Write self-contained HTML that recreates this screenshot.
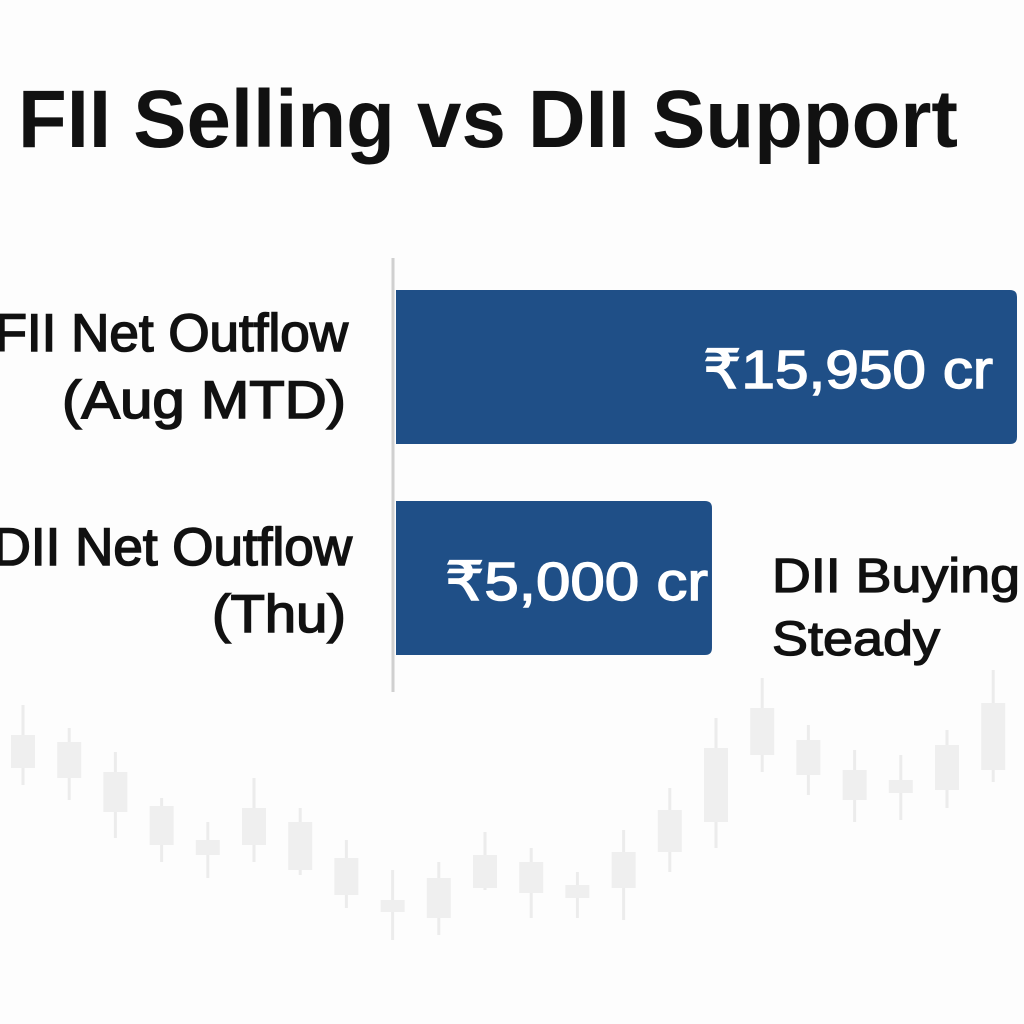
<!DOCTYPE html>
<html>
<head>
<meta charset="utf-8">
<style>
html,body{margin:0;padding:0;background:#fdfdfd;width:1024px;height:1024px;overflow:hidden;}
svg{display:block;font-family:"Liberation Sans","DejaVu Sans",sans-serif;}
</style>
</head>
<body>
<svg id="chart" width="1024" height="1024" viewBox="0 0 1024 1024">
  <rect x="0" y="0" width="1024" height="1024" fill="#fdfdfd"/>
  <g id="candles"></g>
  <text x="18" y="147" font-size="82" font-weight="bold" fill="#111" textLength="940" lengthAdjust="spacingAndGlyphs">FII Selling vs DII Support</text>
  <line x1="393" y1="258" x2="393" y2="692" stroke="#d0d0d0" stroke-width="3"/>
  <g id="bars"></g>
  <g font-size="53" fill="#111" stroke="#111" stroke-width="1.6" text-anchor="end">
    <text x="348" y="351">FII Net Outflow</text>
    <text x="346" y="418" textLength="284" lengthAdjust="spacingAndGlyphs">(Aug MTD)</text>
  </g>
  <g font-size="53" fill="#111" stroke="#111" stroke-width="1.6" text-anchor="end">
    <text x="352" y="565">DII Net Outflow</text>
    <text x="346" y="632" textLength="134" lengthAdjust="spacingAndGlyphs">(Thu)</text>
  </g>
  <g font-size="48" fill="#111" stroke="#111" stroke-width="1.3">
    <text x="772" y="592" textLength="248" lengthAdjust="spacingAndGlyphs">DII Buying</text>
    <text x="772" y="655" textLength="168" lengthAdjust="spacingAndGlyphs">Steady</text>
  </g>
</svg>
<script>
const categories = ["FII Net Outflow (Aug MTD)", "DII Net Outflow (Thu)"];
const values = [15950, 5000];
const valueLabels = ["₹15,950 cr", "₹5,000 cr"];

const candleOpen  = [768, 778, 772, 845, 855, 845, 822, 895, 900, 918, 888, 862, 898, 888, 852, 822, 755, 775, 800, 793, 790, 770];
const candleClose = [735, 742, 812, 806, 840, 808, 870, 858, 912, 878, 855, 893, 885, 852, 810, 748, 708, 740, 770, 780, 745, 703];
const candleHigh  = [705, 728, 752, 798, 822, 778, 808, 840, 870, 862, 832, 848, 872, 830, 788, 718, 678, 725, 750, 755, 730, 670];
const candleLow   = [785, 800, 838, 862, 878, 862, 875, 908, 940, 935, 890, 918, 918, 920, 872, 848, 772, 795, 822, 820, 808, 782];

const NS = "http://www.w3.org/2000/svg";
const barX0 = 396, barOffset = 176.7, barK = (621 - 176.7) / 15950;
function xScale(v){ return barX0 + barOffset + v * barK; }
const bandTop = [290, 501], bandH = 154;
function yBand(i){ return bandTop[i]; }
const labelLen = [290, 263];

const barsG = document.getElementById('bars');
values.forEach((v, i) => {
  const x1 = xScale(v), y = yBand(i), r = 7;
  const p = document.createElementNS(NS, 'path');
  p.setAttribute('d', `M${barX0},${y} H${x1 - r} Q${x1},${y} ${x1},${y + r} V${y + bandH - r} Q${x1},${y + bandH} ${x1 - r},${y + bandH} H${barX0} Z`);
  p.setAttribute('fill', '#1f4f87');
  
  
  barsG.appendChild(p);
  const t = document.createElementNS(NS, 'text');
  t.setAttribute('x', x1 - (i === 0 ? 24 : 4));
  t.setAttribute('y', y + (i === 0 ? 98 : 99));
  t.setAttribute('text-anchor', 'end');
  t.setAttribute('font-size', '54');
  t.setAttribute('fill', '#ffffff');
  t.setAttribute('stroke', '#ffffff');
  t.setAttribute('stroke-width', '1.4');
  t.setAttribute('textLength', labelLen[i]);
  t.setAttribute('lengthAdjust', 'spacingAndGlyphs');
  t.textContent = valueLabels[i];
  
  
  barsG.appendChild(t);
});

function cy(v){ return v; }
function cx(i){ return 23 + i * 46.2; }
const cg = document.getElementById('candles');
candleOpen.forEach((o, i) => {
  const x = cx(i);
  const wick = document.createElementNS(NS, 'line');
  wick.setAttribute('x1', x); wick.setAttribute('x2', x);
  wick.setAttribute('y1', cy(candleHigh[i])); wick.setAttribute('y2', cy(candleLow[i]));
  wick.setAttribute('stroke', '#ececec'); wick.setAttribute('stroke-width', '3');
  
  
  cg.appendChild(wick);
  const top = Math.min(cy(o), cy(candleClose[i])), h = Math.abs(cy(o) - cy(candleClose[i]));
  const b = document.createElementNS(NS, 'rect');
  b.setAttribute('x', x - 12); b.setAttribute('width', 24);
  b.setAttribute('y', top); b.setAttribute('height', Math.max(h, 4));
  b.setAttribute('fill', '#efefef');
  
  
  cg.appendChild(b);
});
</script>
</body>
</html>
